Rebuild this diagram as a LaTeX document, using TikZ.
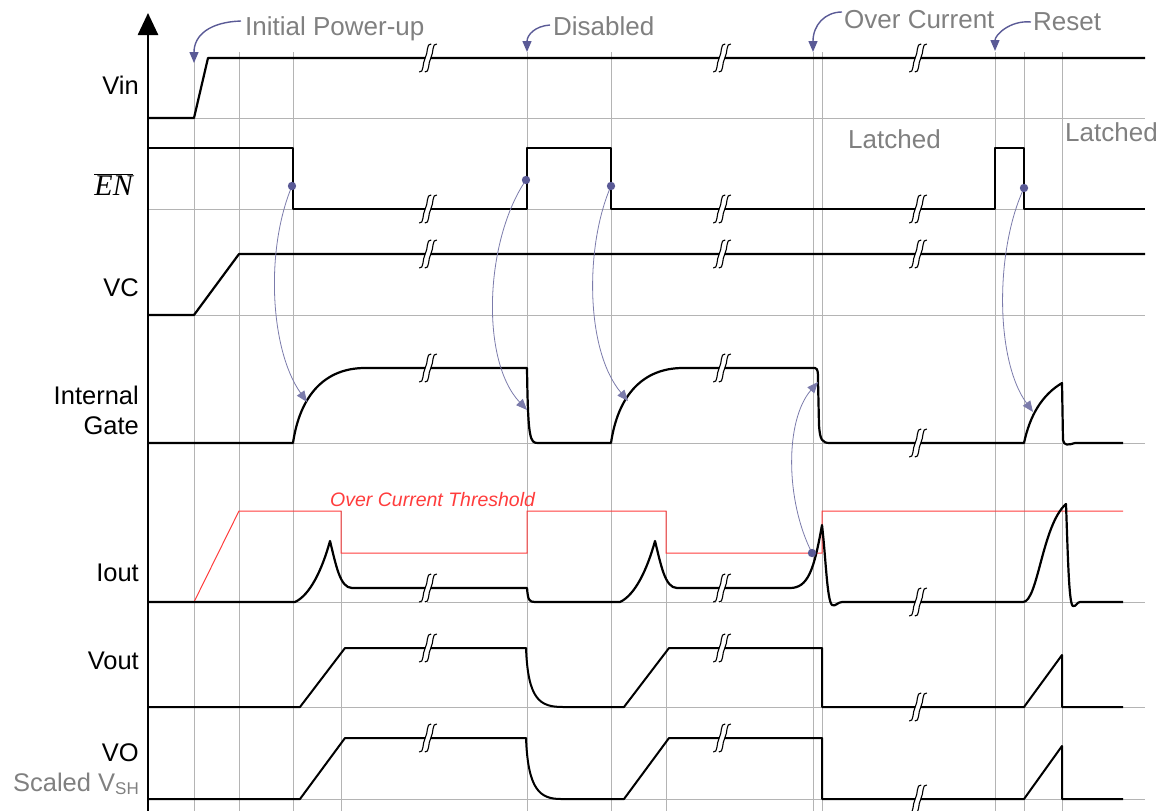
\documentclass[tikz,border=0pt]{standalone}
\usepackage{fontspec}
\setmainfont{Liberation Sans}
\newfontfamily\seriffam{Liberation Serif}
\usetikzlibrary{arrows.meta}
\definecolor{gridc}{RGB}{180,180,180}
\definecolor{navyc}{RGB}{90,90,150}
\definecolor{anngray}{RGB}{128,128,128}
\definecolor{redc}{RGB}{255,60,60}
\tikzset{
  gridline/.style={draw=gridc, line width=1pt},
  sig/.style={draw=black, line width=2.2pt, line join=round},
  thr/.style={draw=redc, line width=1pt},
  lbl/.style={anchor=base east, inner sep=0pt, font=\fontsize{25.5}{30}\selectfont},
  ann/.style={anchor=base west, inner sep=0pt, text=anngray, font=\fontsize{26}{30}\selectfont},
  annarrow/.style={draw=navyc, line width=1.4pt, -{Triangle[length=11pt,width=9pt]}},
  cause/.style={draw=navyc!80, line width=0.8pt, -{Triangle[length=11pt,width=9pt]}},
  dotc/.style={fill=navyc, draw=none},
  brk/.pic={
    \draw[white, line width=5pt] (-6,14) .. controls (-1,15) and (-3,5) .. (0,0) .. controls (3,-5) and (1,-15) .. (6,-14);
    \foreach \d in {-2.8,2.8}{
      \draw[black, line width=1.1pt, shift={(\d,0)}] (-6,14) .. controls (-1,15) and (-3,5) .. (0,0) .. controls (3,-5) and (1,-15) .. (6,-14);
    }
  }
}
\begin{document}
\begin{tikzpicture}[x=1pt,y=-1pt]
\useasboundingbox (0,0) rectangle (1165,811);
% grid
\foreach \gx in {194,239,293,527,611,813,822,995,1024,1062}{
  \draw[gridline] (\gx,52) -- (\gx,811);
}
\foreach \gx in {341,666}{
  \draw[gridline] (\gx,511) -- (\gx,811);
}
\foreach \gy in {118,209,315,443,602,707,799}{
  \draw[gridline] (148,\gy) -- (1145,\gy);
}
% threshold
\draw[thr] (194,602) -- (239,511) -- (341,511) -- (341,553) -- (527,553) -- (527,511) -- (666,511) -- (666,553) -- (822,553) -- (822,511) -- (1123,511);
\node[anchor=base west, inner sep=0pt, text=redc, font=\fontsize{19.5}{22}\selectfont\itshape] (thrlbl) at (330,506) {Over Current Threshold};
% signals
\draw[sig] (148,118) -- (194,118) -- (208,58) -- (1145,58);
\draw[sig] (148,148) -- (293,148) -- (293,209) -- (527,209) -- (527,148) -- (611,148) -- (611,209) -- (995,209) -- (995,148) -- (1024,148) -- (1024,209) -- (1145,209);
\draw[sig] (148,315) -- (194,315) -- (239,254) -- (1145,254);
\draw[sig] (148,443) -- (293,443) .. controls (300,395) and (325,368) .. (365,368) -- (527,368) .. controls (528,440) and (530,443) .. (538,443) -- (611,443) .. controls (618,395) and (643,368) .. (683,368) -- (815,368) .. controls (818,369) and (818,372) .. (818,380) -- (819,425) .. controls (820,440) and (822,443) .. (830,443) -- (1024,443) .. controls (1030,415) and (1042,395) .. (1062,383) -- (1063,440) .. controls (1064,446) and (1068,445) .. (1075,443) -- (1123,443);
\draw[sig] (148,602) -- (295,602) .. controls (310,595) and (322,570) .. (330,541) .. controls (336,565) and (340,588) .. (352,588) -- (527,588) .. controls (528,600) and (529,602) .. (535,602) -- (620,602) .. controls (635,595) and (647,570) .. (655,541) .. controls (661,565) and (665,588) .. (677,588) -- (790,588) .. controls (808,588) and (814,570) .. (822,525) .. controls (826,560) and (827,600) .. (832,605) .. controls (835,607) and (838,602) .. (842,602) -- (1023,602) .. controls (1038,602) and (1042,525) .. (1066,504) .. controls (1068,560) and (1069,605) .. (1073,606) .. controls (1076,607) and (1077,602) .. (1080,602) -- (1123,602);
\draw[sig, line width=2pt] (148,707) -- (300,707) -- (345,648) -- (526,648) .. controls (528,700) and (540,707) .. (563,707) -- (624,707) -- (669,648) -- (822,648) -- (822,707) -- (1024,707) -- (1062,655) -- (1062,707) -- (1123,707);
\draw[sig, line width=2pt] (148,799) -- (300,799) -- (345,738) -- (526,738) .. controls (528,790) and (540,799) .. (561,799) -- (624,799) -- (669,738) -- (822,738) -- (822,799) -- (1024,799) -- (1062,746) -- (1062,799) -- (1123,799);
% breaks
\foreach \bx/\by in {428/58,722/58,918/58, 428/209,722/209,918/209, 428/254,722/254,918/254, 428/368,722/368,918/443, 428/588,722/588,918/602, 428/648,722/648,918/707, 428/738,722/738,918/799}{
  \pic at (\bx,\by) {brk};
}
% axis
\draw[line width=2.6pt, -{Triangle[length=22pt,width=20pt]}] (148,811) -- (148,13);
% labels
\node[lbl] (lvin) at (139,94) {Vin};
\node[anchor=base east, inner sep=0pt, font=\fontsize{30}{34}\selectfont] (len) at (133,195) {$\overline{\hbox{\seriffam\itshape EN}}$};
\node[lbl] (lvc) at (139,296) {VC};
\node[lbl] (lint) at (139,404) {Internal};
\node[lbl] (lgate) at (139,434) {Gate};
\node[lbl] (liout) at (139,581) {Iout};
\node[lbl] (lvout) at (139,669) {Vout};
\node[lbl] (lvo) at (139,761) {VO};
\node[lbl, text=anngray] (lvsh) at (139,791) {Scaled V{\fontsize{17}{20}\selectfont\raisebox{-3pt}{SH}}};
% annotations
\node[ann] (apu) at (245,35) {Initial Power-up};
\node[ann] (adis) at (553,35) {Disabled};
\node[ann] (aoc) at (844,28) {Over Current};
\node[ann] (arst) at (1033,30) {Reset};
\node[ann] (alat1) at (848,148) {Latched};
\node[ann] (alat2) at (1065,141) {Latched};
\coordinate (tpu) at (194,63);
\coordinate (tdis) at (527,52);
\coordinate (toc) at (813,52);
\coordinate (trst) at (995,51);
\draw[annarrow] (241,21) .. controls (210,22) and (194,35) .. (tpu);
\draw[annarrow] (550,25) .. controls (535,26) and (527,35) .. (tdis);
\draw[annarrow] (842,12) .. controls (825,12) and (813,25) .. (toc);
\draw[annarrow] (1031,22) .. controls (1010,20) and (995,35) .. (trst);
% cause arrows
\coordinate (d1) at (292,186);
\coordinate (d2) at (526,180);
\coordinate (d3) at (611,186);
\coordinate (d4) at (1024,188);
\coordinate (d5) at (812,553);
\coordinate (g1) at (307,402);
\coordinate (g2) at (527,410);
\coordinate (g3) at (628,401);
\coordinate (g4) at (1033,412);
\coordinate (g5) at (818,382);
\draw[cause] (d1) .. controls (265,250) and (270,350) .. (g1);
\draw[cause] (d2) .. controls (485,240) and (480,360) .. (g2);
\draw[cause] (d3) .. controls (585,245) and (585,350) .. (g3);
\draw[cause] (d4) .. controls (995,250) and (995,360) .. (g4);
\draw[cause] (d5) .. controls (785,500) and (785,420) .. (g5);
\foreach \d in {d1,d2,d3,d4,d5}{ \fill[dotc] (\d) circle (4.2pt); }
\end{tikzpicture}
\end{document}
